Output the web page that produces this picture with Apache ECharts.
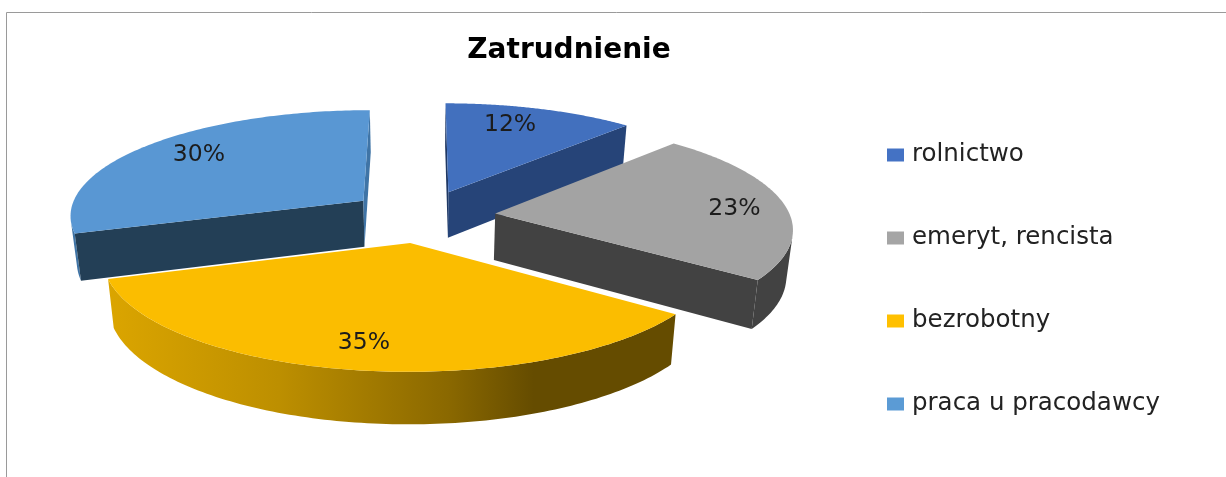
<!DOCTYPE html>
<html>
<head>
<meta charset="utf-8">
<style>html,body{margin:0;padding:0;background:#fff}#c{width:1226px;height:477px}</style>
<script src="https://cdn.jsdelivr.net/npm/echarts@6/dist/echarts.min.js"></script>
</head>
<body>
<div id="c"></div>
<script>
var titleText = 'Zatrudnienie';
var categories = ['rolnictwo', 'emeryt, rencista', 'bezrobotny', 'praca u pracodawcy'];
var percents = [12, 23, 35, 30];
var topColors = ['#4270BE', '#A3A3A3', '#FBBD00', '#5997D3'];
var legendColors = ['#4472C4', '#A5A5A5', '#FFC000', '#5B9BD5'];
var startCutColors = ['#1F3864', '#424242', '#8A6800', '#233F56'];
var endCutColors = ['#264478', '#424242', '#8A6800', '#3F74A6'];
var arcColors = ['#264478', '#424242', null, '#3F74A6'];
var paintOrder = [1, 3, 4, 2];
var labelRadius = [0.78, 0.82, 0.81, 0.78];
var labelFraction = [0.42, 0.53, 0.503, 0.52];

// view of the tilted disc (perspective projection)
var CX = 422, CY = 216, RX = 295, RY = 105.5, PERSP = 0.125, EXPLODE = 0.25, DEPTH = 46.5, SHRINK = 0.982;

var total = percents.reduce(function (a, b) { return a + b; }, 0);
function project(u, v, low) {
  var w = 1 / (1 - PERSP * v);
  var x = CX + RX * u * w, y = CY + RY * v * w;
  if (low) { x = CX + (x - CX) * SHRINK; y += DEPTH * (1 + 0.7 * (w - 1)); }
  return [x, y];
}
function angles(i) {
  var before = 0;
  for (var k = 0; k < i; k++) before += percents[k];
  return [before / total * 2 * Math.PI, (before + percents[i]) / total * 2 * Math.PI];
}
function slicePoint(i, th, r, low) {
  var a = angles(i), m = (a[0] + a[1]) / 2;
  var u = EXPLODE * Math.sin(m) + r * Math.sin(th);
  var v = -EXPLODE * Math.cos(m) - r * Math.cos(th);
  return project(u, v, low);
}
function renderSlice(i) {
  return function (params, api) {
    var a = angles(i);
    var steps = 120, arcTop = [], arcLow = [], stripTop = [], stripLow = [];
    for (var s = 0; s <= steps; s++) {
      var th = a[0] + (a[1] - a[0]) * s / steps;
      arcTop.push(slicePoint(i, th, 1, false));
      arcLow.push(slicePoint(i, th, 1, true));
    }
    // keep only the part of the rim that faces the viewer
    for (var q = 0; q < steps; q++) {
      var dx = arcTop[q + 1][0] - arcTop[q][0], dy = arcTop[q + 1][1] - arcTop[q][1];
      var ex = arcLow[q][0] - arcTop[q][0], ey = arcLow[q][1] - arcTop[q][1];
      if (dx * ey - dy * ex < 0) {
        stripTop.push(arcTop[q], arcTop[q + 1]);
        stripLow.push(arcLow[q], arcLow[q + 1]);
      }
    }
    var apexTop = slicePoint(i, a[0], 0, false), apexLow = slicePoint(i, a[0], 0, true);
    function cut(th, color) {
      return { type: 'polygon', shape: { points: [apexTop, slicePoint(i, th, 1, false), slicePoint(i, th, 1, true), apexLow] }, style: { fill: color } };
    }
    var xs = arcTop.map(function (p) { return p[0]; });
    var arcFill = arcColors[i] || new echarts.graphic.LinearGradient(Math.min.apply(null, xs), 0, Math.max.apply(null, xs), 0, [
      { offset: 0, color: '#DBA500' }, { offset: 0.3, color: '#BD8F00' },
      { offset: 0.6, color: '#8A6800' }, { offset: 0.75, color: '#654C00' }, { offset: 1, color: '#654C00' }
    ], true);
    var children = [];
    if (stripTop.length > 1) {
      children.push({ type: 'polygon', shape: { points: stripTop.concat(stripLow.slice().reverse()) }, style: { fill: arcFill } });
    }
    // a cut face shows only when it turns towards the viewer
    if (Math.sin(a[0]) < 0.01) children.push(cut(a[0], startCutColors[i]));
    if (Math.sin(a[1]) > -0.01) children.push(cut(a[1], endCutColors[i]));
    children.push({ type: 'polygon', shape: { points: [apexTop].concat(arcTop) }, style: { fill: topColors[i] } });
    var label = slicePoint(i, a[0] + (a[1] - a[0]) * labelFraction[i], labelRadius[i], false);
    children.push({ type: 'text', style: { text: api.value(0) + '%', x: label[0], y: label[1], align: 'center', verticalAlign: 'middle',
      font: '23.5px "DejaVu Sans"', fill: '#1c1c1c' }, z2: 50 });
    return { type: 'group', children: children };
  };
}

var chart = echarts.init(document.getElementById('c'), null, { renderer: 'canvas' });
chart.setOption({
  animation: false,
  backgroundColor: '#fff',
  title: { text: titleText, left: 564, top: 46, textAlign: 'center', textVerticalAlign: 'middle',
    textStyle: { fontFamily: 'DejaVu Sans', fontSize: 28, fontWeight: 'bold', color: '#000' } },
  legend: {
    orient: 'vertical', left: 887, top: 142, padding: 0, itemWidth: 17, itemHeight: 13, itemGap: 57, icon: 'rect',
    selectedMode: false, data: categories,
    textStyle: { fontFamily: 'DejaVu Sans', fontSize: 24.5, color: '#222', lineHeight: 26, padding: [0, 0, 0, 3] }
  },
  graphic: [{
    type: 'polyline', silent: true,
    shape: { points: [[6.5, 477], [6.5, 12.5], [1226, 12.5]] },
    style: { stroke: '#9a9a9a', lineWidth: 1, fill: null }
  }],
  series: categories.map(function (name, i) {
    return {
      type: 'custom', name: name, coordinateSystem: 'none', z: paintOrder[i],
      itemStyle: { color: legendColors[i] },
      data: [[percents[i]]], renderItem: renderSlice(i)
    };
  })
});
</script>
</body>
</html>
